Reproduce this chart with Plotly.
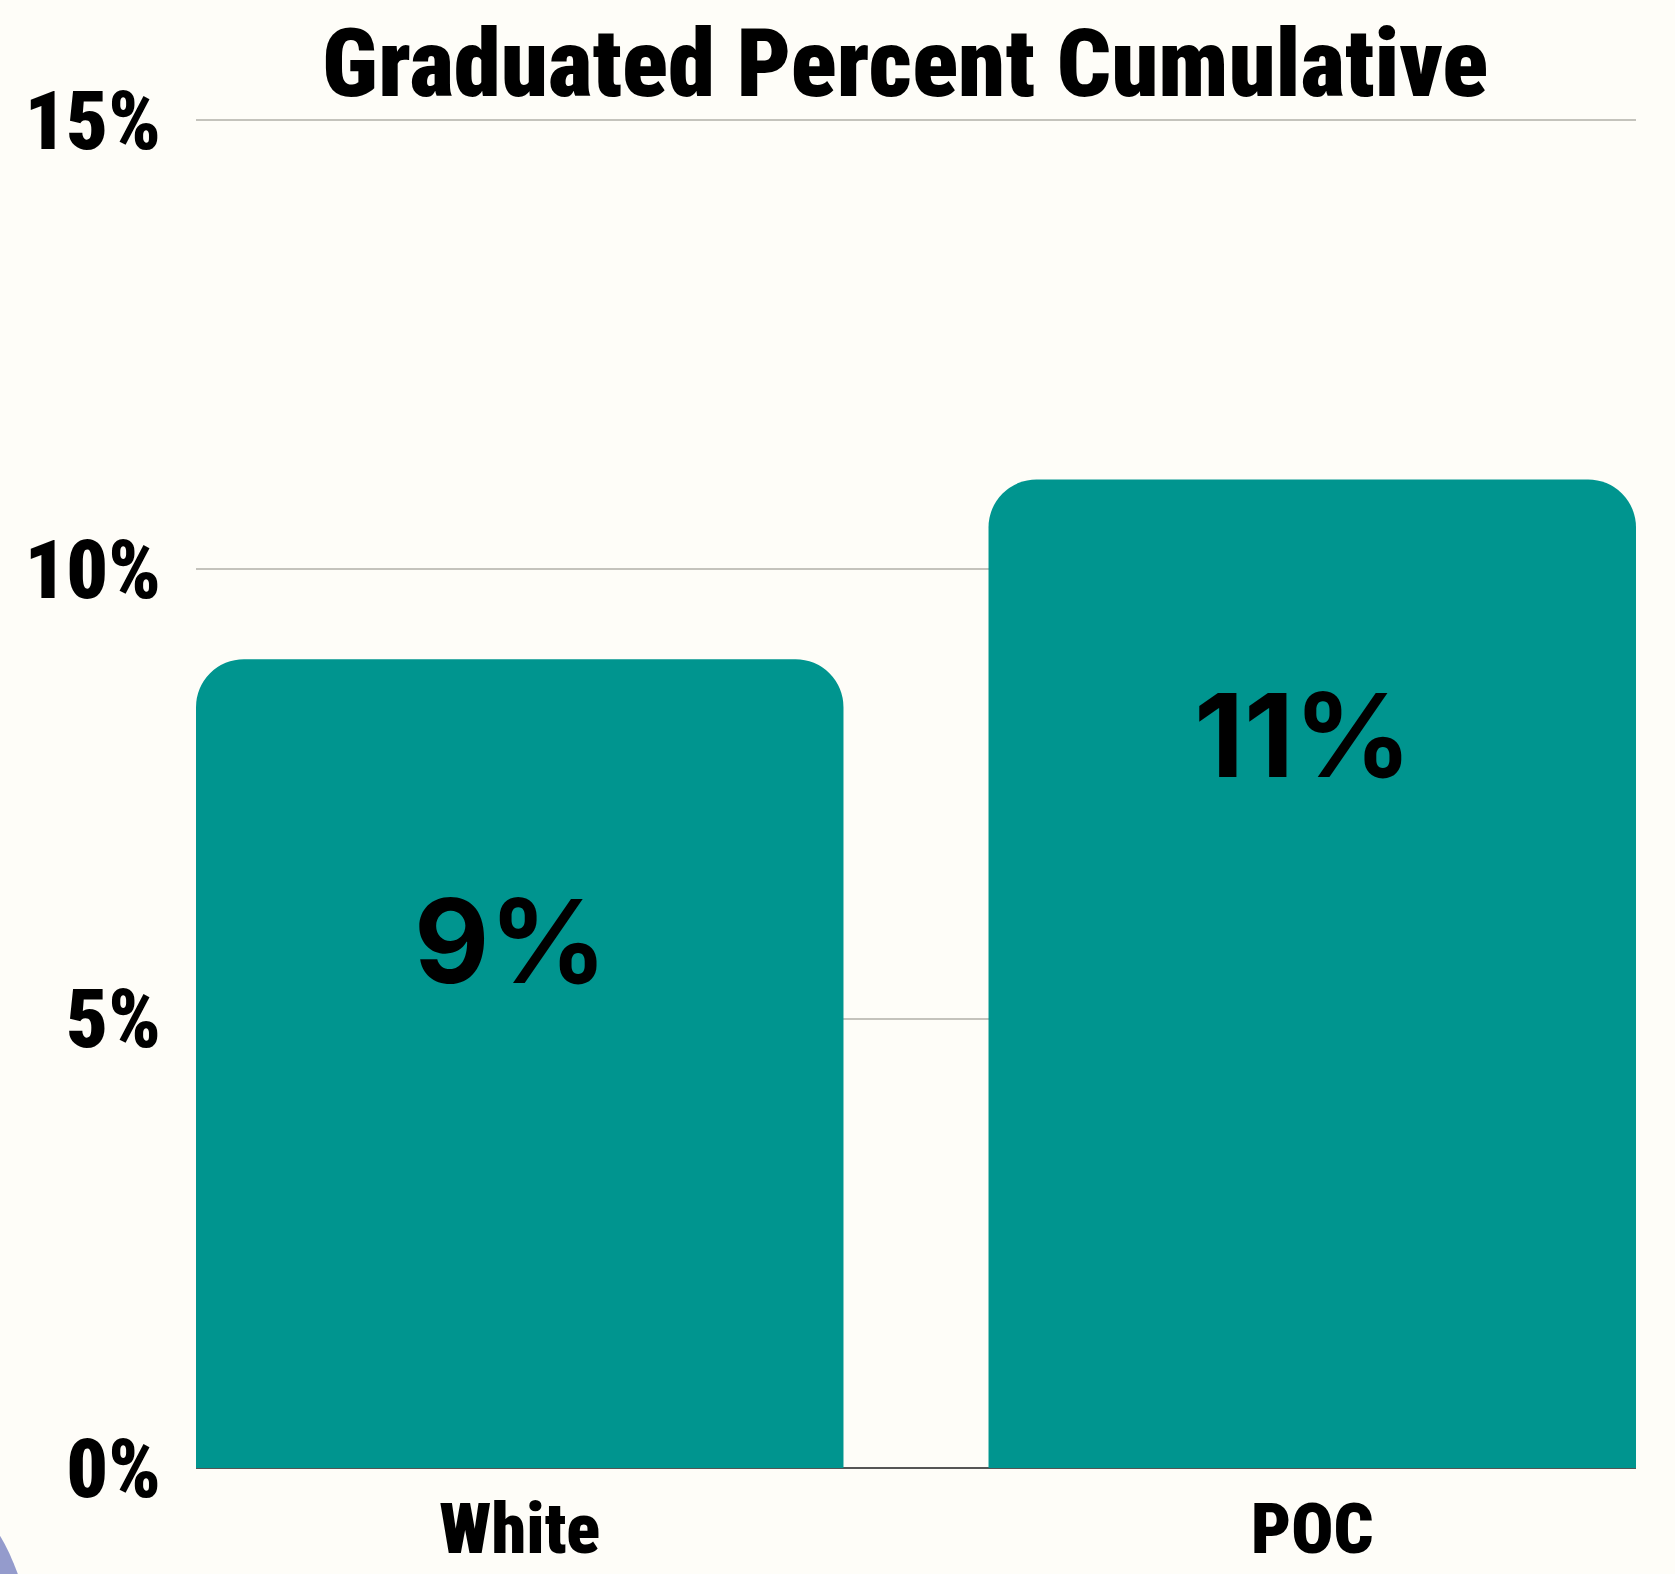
import plotly.graph_objects as go

# ---- data ----
categories = ["White", "POC"]
values = [9, 11]
value_labels = ["9%", "11%"]
ytick_vals = [0, 5, 10, 15]
ytick_text = ["0%", "5%", "10%", "15%"]
title_text = "Graduated Percent Cumulative"

# ---- style ----
W, H = 1675, 1574
YMAX = 15.1
ML, MR, MT, MB = 196, 39, 111, 106
BG = "#FEFDF8"
TEAL = "#00958F"
COND = "Roboto, Open Sans, sans-serif"
GEO = "Inter, Lato, sans-serif"

PW = W - ML - MR
PH = H - MT - MB


def cond(s):
    return f"<span style='font-stretch:condensed'>{s}</span>"


def px(xp, yp):
    return (xp - ML) / PW, (H - MB - yp) / PH


fig = go.Figure()
fig.add_bar(
    x=categories,
    y=values,
    width=0.817,
    marker=dict(color=TEAL, line=dict(width=0), cornerradius=48),
    hoverinfo="skip",
)

# value labels placed inside the bars, a little above their middles
for c, v, t in zip(categories, values, value_labels):
    fig.add_annotation(
        x=c, y=1.15 * v - 4.49, xref="x", yref="y", text=t, showarrow=False,
        font=dict(family=GEO, size=116, color="#000000", weight=700),
        yanchor="middle", xanchor="center", xshift=-9,
    )

tx, _ = px(905, 0)
fig.add_annotation(
    x=tx, y=1, xref="paper", yref="paper", text=cond(title_text), showarrow=False,
    font=dict(family=COND, size=95, color="#000000", weight=900),
    xanchor="center", yanchor="bottom", yshift=-10,
)

# decorative shape at bottom-left corner
a = px(-10, 1522)
b = px(6, 1540)
c2 = px(20, 1580)
d = px(-10, 1580)
fig.add_shape(
    type="path", xref="paper", yref="paper",
    path=f"M {a[0]},{a[1]} Q {b[0]},{b[1]} {c2[0]},{c2[1]} L {d[0]},{d[1]} Z",
    fillcolor="#949BCC", line=dict(width=0), layer="above",
)

fig.update_layout(
    width=W, height=H,
    margin=dict(l=ML, r=MR, t=MT, b=MB, pad=0, autoexpand=False),
    paper_bgcolor=BG, plot_bgcolor=BG,
    showlegend=False,
    xaxis=dict(
        range=[-0.4085, 1.4085], showgrid=False, zeroline=False, showline=False,
        tickvals=categories, ticktext=[cond(c) for c in categories],
        ticks="", tickfont=dict(family=COND, size=70, color="#000000", weight=900),
        ticklabelstandoff=14, fixedrange=True, automargin=False,
    ),
    yaxis=dict(
        range=[0, YMAX], tickvals=ytick_vals, ticktext=[cond(t) for t in ytick_text],
        showgrid=True, gridcolor="#C4C3BC", gridwidth=2,
        zeroline=True, zerolinecolor="#555555", zerolinewidth=2,
        showline=False, ticks="",
        tickfont=dict(family=COND, size=82, color="#000000", weight=900),
        ticklabelstandoff=34, fixedrange=True, automargin=False,
    ),
)

fig.write_html(
    "out.html",
    config={"displayModeBar": False},
    post_script=f"document.body.style.margin='0';document.body.style.background='{BG}';",
)
